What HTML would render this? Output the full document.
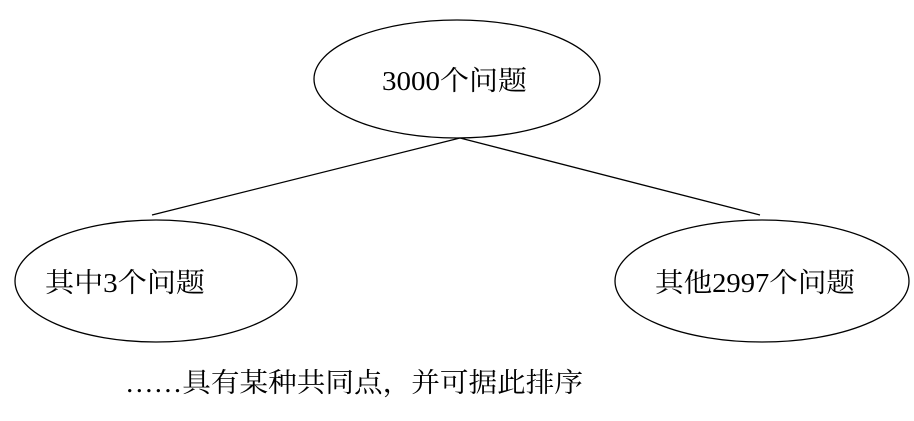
<!DOCTYPE html>
<html><head><meta charset="utf-8"><style>
html,body{margin:0;padding:0;background:#fff;}
svg text{font-family:"Liberation Serif","Noto Serif CJK SC",serif;font-size:27px;fill:#000;}
</style></head><body>
<svg width="914" height="416" viewBox="0 0 914 416" xmlns="http://www.w3.org/2000/svg">
<g fill="none" stroke="#000" stroke-width="1.3">
<ellipse cx="457" cy="79" rx="143" ry="59"/>
<ellipse cx="156" cy="281" rx="141" ry="61"/>
<ellipse cx="762" cy="281" rx="147" ry="61"/>
<line x1="460" y1="138" x2="152" y2="215"/>
<line x1="460" y1="138" x2="760" y2="215"/>
</g>
<text x="382" y="90" textLength="145" lengthAdjust="spacingAndGlyphs">3000个问题</text>
<text x="45" y="292" textLength="160" lengthAdjust="spacingAndGlyphs">其中3个问题</text>
<text x="655" y="292" textLength="200" lengthAdjust="spacingAndGlyphs">其他2997个问题</text>
<text x="125" y="392" textLength="458" lengthAdjust="spacingAndGlyphs">……具有某种共同点，并可据此排序</text>
</svg>
</body></html>
